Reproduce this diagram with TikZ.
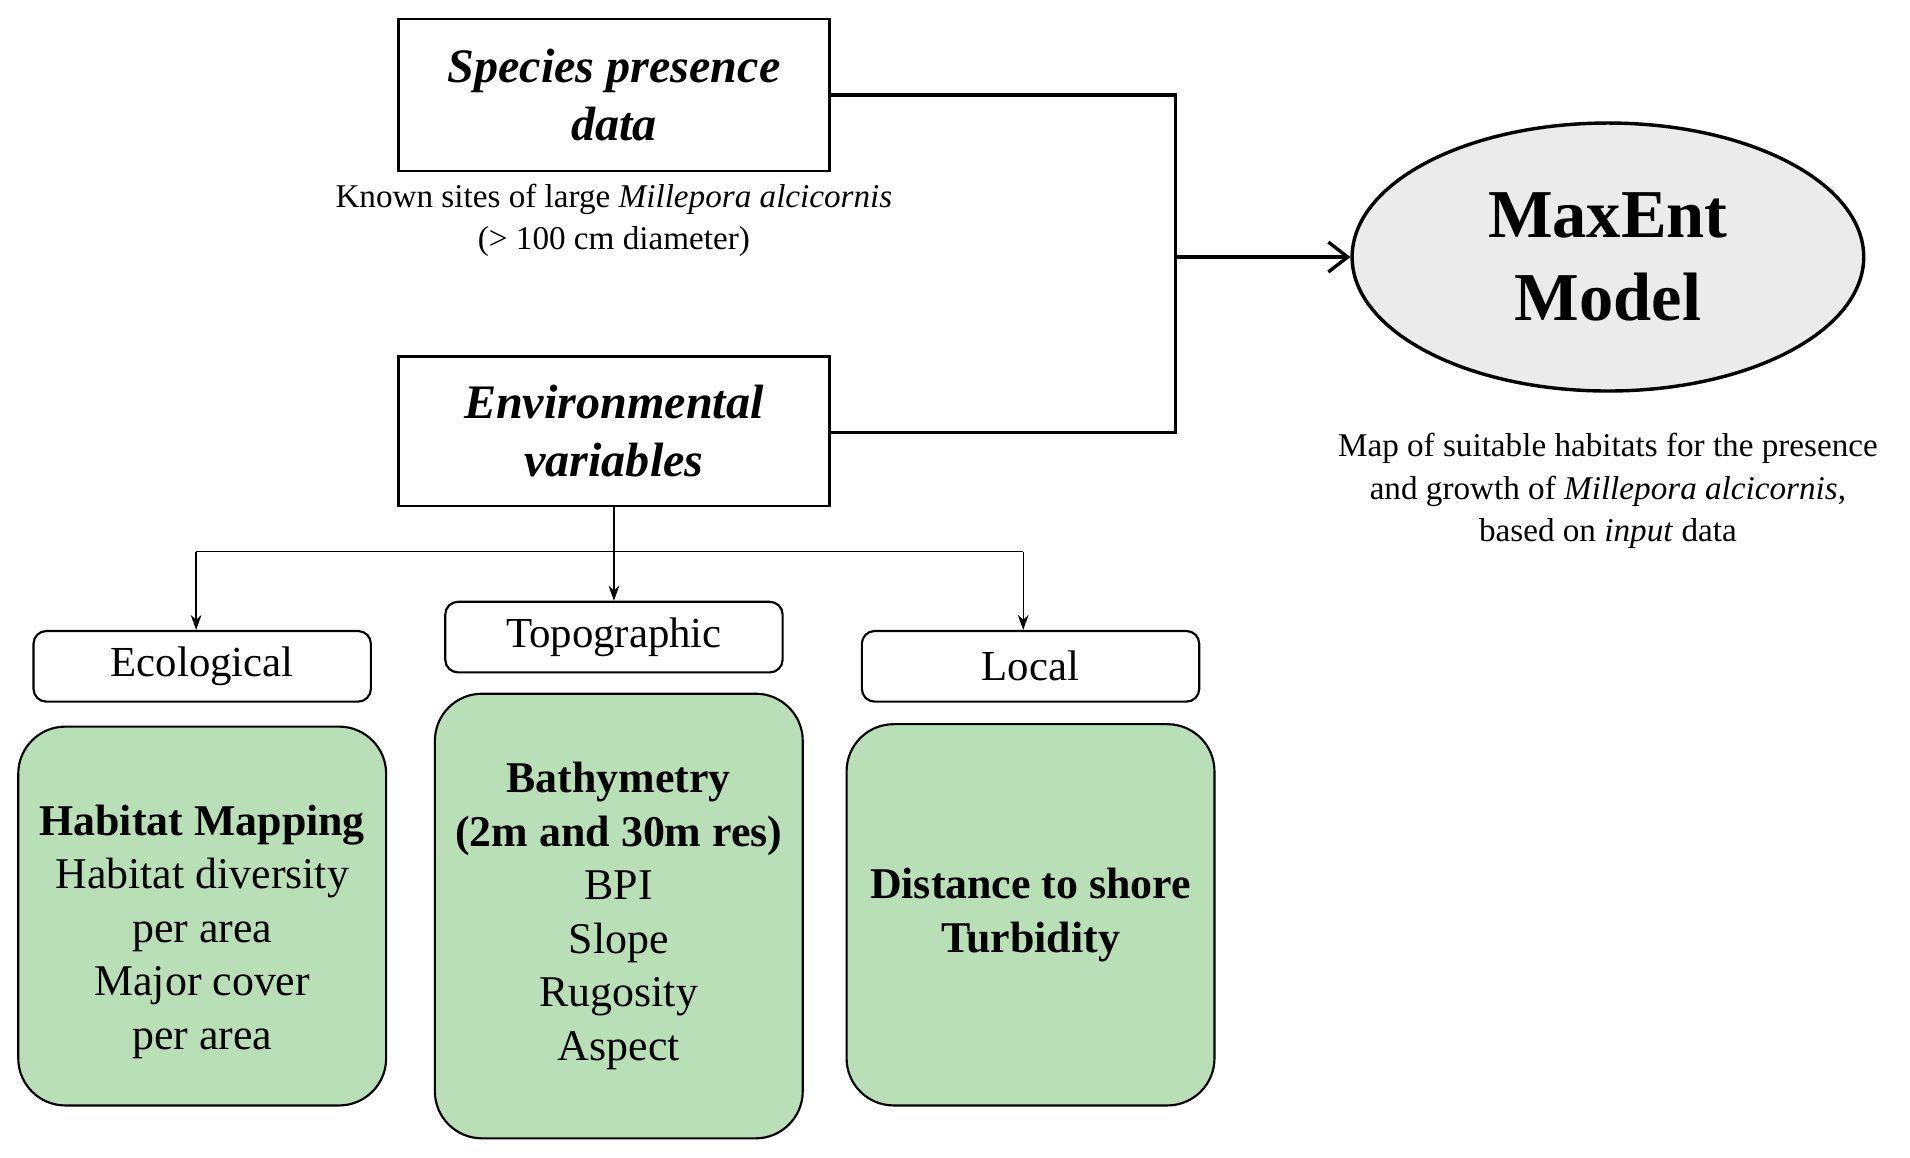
\documentclass[tikz,border=0pt]{standalone}
\usepackage{fontspec}
\setmainfont{Liberation Serif}
\usetikzlibrary{arrows.meta,shapes.geometric}
\begin{document}
\begin{tikzpicture}[x=0.02cm,y=-0.02cm,
 box/.style={draw,line width=1.2pt,inner sep=0pt},
 lab/.style={draw,line width=1pt,rounded corners=6pt,minimum width=277*0.02cm,minimum height=58*0.02cm,font=\fontsize{20}{24}\selectfont},
 green/.style={draw,line width=1pt,rounded corners=22pt,minimum width=302*0.02cm,align=center,font=\fontsize{20.5}{25}\selectfont},
 gtext/.style={align=center,font=\fontsize{20.5}{25}\selectfont},
 captxt/.style={align=center,font=\fontsize{15.5}{19.8}\selectfont},
 thick1/.style={line width=1.6pt},
 thin1/.style={line width=0.6pt,-{Stealth[length=7pt,width=5pt]}}]
\useasboundingbox (0,0) rectangle (1568,950);
\definecolor{gfill}{HTML}{B9DFB6}
\definecolor{efill}{HTML}{EBEBEB}
\node[box,minimum width=354*0.02cm,minimum height=125*0.02cm,align=center,font=\fontsize{22.5}{27}\selectfont\bfseries\itshape] (sp) at (504,78) {Species presence\\data};
\node[captxt] (spc) at (504,181) {Known sites of large \textit{Millepora alcicornis}\\(> 100 cm diameter)};
\node[box,minimum width=354*0.02cm,minimum height=123*0.02cm,align=center,font=\fontsize{22.5}{27}\selectfont\bfseries\itshape] (env) at (504,354) {Environmental\\variables};
\node[draw,line width=1.6pt,ellipse,fill=efill,minimum width=420*0.02cm,minimum height=220*0.02cm,align=center,font=\fontsize{32}{38.5}\selectfont\bfseries] (mx) at (1320,211) {MaxEnt\\Model};
\node[captxt] (mxc) at (1320,403) {Map of suitable habitats for the presence\\and growth of \textit{Millepora alcicornis},\\based on \textit{input} data};
\coordinate (j1) at (965,78);
\coordinate (j2) at (965,355);
\coordinate (jm) at (965,211);
\draw[thick1] (sp.east|-j1) -- (j1) -- (j2) -- (env.east|-j2);
\draw[thick1,-{Straight Barb[length=9pt,width=14pt]}] (jm) -- (mx.west);
\node[lab] (eco) at (166,547) {Ecological};
\node[lab] (top) at (504,523) {Topographic};
\node[lab] (loc) at (846,547) {Local};
\coordinate (b) at (504,453);
\coordinate (bl) at (161,453);
\coordinate (br) at (840,453);
\draw[line width=0.6pt] (env.south) -- (b) (bl) -- (br);
\draw[thin1] (bl) -- (bl|-eco.north);
\draw[thin1] (b) -- (top.north);
\draw[thin1] (br) -- (br|-loc.north);
\node[green,fill=gfill,minimum height=311*0.02cm] (g1) at (166,752) {};
\node[gtext] (g1t) at (166,765) {\textbf{Habitat Mapping}\\Habitat diversity\\per area\\Major cover\\per area};
\node[green,fill=gfill,minimum height=365*0.02cm] (g2) at (508,752) {\textbf{Bathymetry}\\\textbf{(2m and 30m res)}\\BPI\\Slope\\Rugosity\\Aspect};
\node[green,fill=gfill,minimum height=313*0.02cm,font=\fontsize{20.5}{25}\selectfont\bfseries] (g3) at (846,751) {Distance to shore\\Turbidity};
\end{tikzpicture}
\end{document}
